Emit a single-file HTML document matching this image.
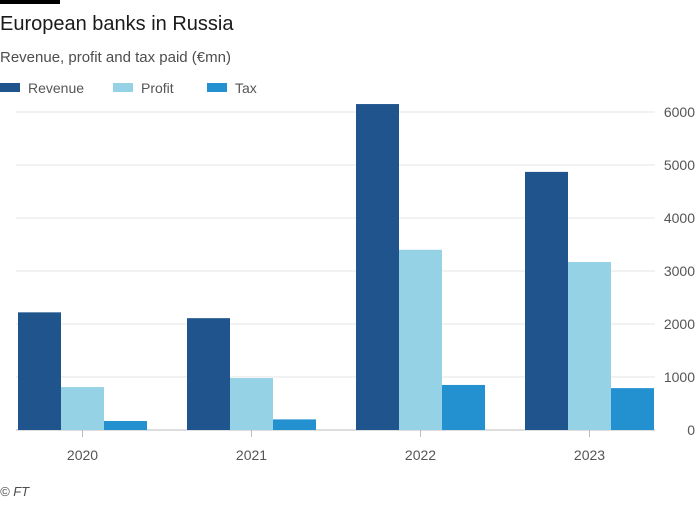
<!DOCTYPE html>
<html><head><meta charset="utf-8"><style>
body{margin:0;background:#fff;font-family:"Liberation Sans",sans-serif}
svg text{font-family:"Liberation Sans",sans-serif}
</style></head><body>
<svg id="c" width="700" height="500" xmlns="http://www.w3.org/2000/svg">
<rect x="0" y="0" width="60" height="4" fill="#000"/>
<text x="0" y="30" font-size="20" fill="#1a1a1a">European banks in Russia</text>
<text x="0" y="62" font-size="15" fill="#4d4d4d">Revenue, profit and tax paid (€mn)</text>
<g id="legend"></g>
<g id="grid"></g><g id="bars"></g><g id="axis"></g>
<text x="0" y="496" font-size="13" font-style="italic" fill="#4d4d4d">© FT</text>
</svg>
<script>
const categories=["2020","2021","2022","2023"];
const seriesNames=["Revenue","Profit","Tax"];
const revenue=[2220,2110,6150,4870];
const profit=[810,980,3400,3170];
const tax=[170,200,850,790];
const yTicks=[0,1000,2000,3000,4000,5000,6000];
const colors=["#1f558c","#96d2e6","#2390d0"];
const NS="http://www.w3.org/2000/svg";
const x0=-2,x1=674,yBase=430,yTop=112,yMax=6000;
const y=v=>yBase-(v/yMax)*(yBase-yTop);
const bw=(x1-x0)/categories.length;
const xc=i=>x0+bw*(i+0.5);
const barW=43;
function mk(t,a,p){const e=document.createElementNS(NS,t);for(const k in a)e.setAttribute(k,a[k]);p.appendChild(e);return e;}
const grid=document.getElementById('grid'),bars=document.getElementById('bars'),axis=document.getElementById('axis'),legend=document.getElementById('legend');
yTicks.forEach(t=>{
 const l=mk('line',{x1:16,x2:655,y1:y(t),y2:y(t),stroke:t===0?'#bdbdbd':'#e6e6e6','stroke-width':1},grid);
 
 
 const tx=mk('text',{x:695,y:y(t)+5,'text-anchor':'end','font-size':14,fill:'#555'},axis);
 tx.textContent=t;
 
 
});
const data=[revenue,profit,tax];
categories.forEach((c,i)=>{
 data.forEach((s,j)=>{
  const bx=xc(i)-1.5*barW+j*barW;
  const r=mk('rect',{x:bx,y:y(s[i]),width:barW,height:yBase-y(s[i]),fill:colors[j]},bars);
  
  
 });
 const tk=mk('line',{x1:xc(i),x2:xc(i),y1:yBase,y2:yBase+7,stroke:'#bdbdbd'},axis);
 
 
 const t=mk('text',{x:xc(i),y:yBase+30,'text-anchor':'middle','font-size':14,fill:'#555'},axis);
 t.textContent=c;
 
 
});
const lx=[0,113,207];
seriesNames.forEach((n,j)=>{
 const r=mk('rect',{x:lx[j],y:83,width:20,height:9,fill:colors[j]},legend);
 
 
 const t=mk('text',{x:lx[j]+28,y:93,'font-size':14,fill:'#555'},legend);
 t.textContent=n;
 
 
});
</script>
</body></html>
